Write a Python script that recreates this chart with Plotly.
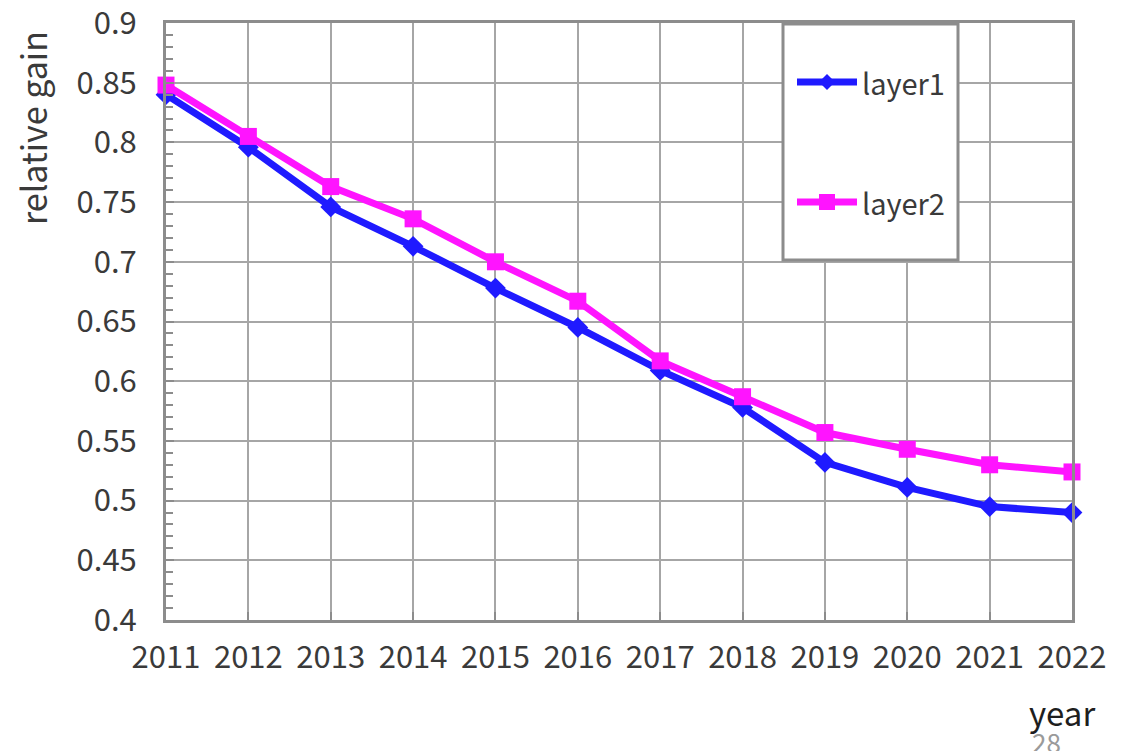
import plotly.graph_objects as go

# Data
years = [2011, 2012, 2013, 2014, 2015, 2016, 2017, 2018, 2019, 2020, 2021, 2022]
layer1 = [0.840, 0.796, 0.746, 0.713, 0.678, 0.645, 0.609, 0.578, 0.532, 0.511, 0.495, 0.490]
layer2 = [0.848, 0.805, 0.763, 0.736, 0.700, 0.667, 0.617, 0.587, 0.557, 0.543, 0.530, 0.524]
series_names = ["layer1", "layer2"]
y_ticks = [0.4, 0.45, 0.5, 0.55, 0.6, 0.65, 0.7, 0.75, 0.8, 0.85, 0.9]
y_tick_text = ["0.4", "0.45", "0.5", "0.55", "0.6", "0.65", "0.7", "0.75", "0.8", "0.85", "0.9"]

BLUE = "#1f1aff"
MAGENTA = "#ff14ff"
GRID = "#a6a6a6"
AXIS = "#8c8c8c"
TEXT = "#3a3a3a"
FONT = "Noto Sans CJK SC"

W, H = 1135, 751
L, R, T, B = 166, 63, 23, 131

fig = go.Figure()
fig.add_trace(go.Scatter(
    x=years, y=layer1, mode="lines+markers", name=series_names[0],
    line=dict(color=BLUE, width=7),
    marker=dict(symbol="diamond", size=16, color=BLUE),
    showlegend=False, cliponaxis=False,
))
fig.add_trace(go.Scatter(
    x=years, y=layer2, mode="lines+markers", name=series_names[1],
    line=dict(color=MAGENTA, width=7),
    marker=dict(symbol="square", size=17, color=MAGENTA),
    showlegend=False, cliponaxis=False,
))

fig.update_layout(
    width=W, height=H,
    margin=dict(l=L, r=R, t=T, b=B, autoexpand=False),
    paper_bgcolor="white", plot_bgcolor="white",
    font=dict(family=FONT, color=TEXT),
    xaxis=dict(
        range=[2011, 2022], tickmode="array", tickvals=years,
        ticktext=[str(y) for y in years],
        tickfont=dict(size=31, color=TEXT, family=FONT),
        showgrid=True, gridcolor=GRID, gridwidth=2,
        showline=True, linecolor=AXIS, linewidth=3, mirror=True,
        ticks="inside", ticklen=8, tickwidth=2, tickcolor=AXIS,
        ticklabelstandoff=8, ticklabeloverflow="allow", automargin=False,
        zeroline=False,
    ),
    yaxis=dict(
        range=[0.4, 0.9], tickmode="array", tickvals=y_ticks, ticktext=y_tick_text,
        tickfont=dict(size=31, color=TEXT, family=FONT),
        showgrid=True, gridcolor=GRID, gridwidth=2,
        showline=True, linecolor=AXIS, linewidth=3, mirror=True,
        ticks="inside", ticklen=8, tickwidth=2, tickcolor=AXIS,
        minor=dict(dtick=0.01, ticks="inside", ticklen=7, tickwidth=2,
                   tickcolor=AXIS, showgrid=False),
        ticklabelstandoff=20, ticklabeloverflow="allow", automargin=False,
        zeroline=False,
    ),
)

pw, ph = W - L - R, H - T - B


def px(xp):
    return (xp - L) / pw


def py(yp):
    return 1 - (yp - T) / ph


# Axis titles and page number
fig.add_annotation(text="relative gain", xref="paper", yref="paper",
                   x=px(33), y=py(128), xanchor="center", yanchor="middle",
                   textangle=-90, showarrow=False,
                   font=dict(size=34, color=TEXT, family=FONT))
fig.add_annotation(text="year", xref="paper", yref="paper",
                   x=px(1062), y=py(712), xanchor="center", yanchor="middle",
                   showarrow=False, font=dict(size=33, color="#1e1e1e", family=FONT))
fig.add_annotation(text="28", xref="paper", yref="paper",
                   x=px(1046), y=py(741), xanchor="center", yanchor="middle",
                   showarrow=False, font=dict(size=26, color="#9a9a9a", family=FONT))

# Legend box
fig.add_shape(type="rect", xref="paper", yref="paper",
              x0=px(783), x1=px(958), y0=py(260), y1=py(24),
              line=dict(color="#8c8c8c", width=3), fillcolor="white", layer="above")

legend_rows = [(series_names[0], BLUE, "diamond", 82), (series_names[1], MAGENTA, "square", 202)]
for name, color, sym, ypix in legend_rows:
    fig.add_shape(type="line", xref="paper", yref="paper",
                  x0=px(797), x1=px(857), y0=py(ypix), y1=py(ypix),
                  line=dict(color=color, width=7), layer="above")
    if sym == "square":
        fig.add_shape(type="rect", xref="paper", yref="paper",
                      x0=px(819), x1=px(835), y0=py(ypix + 8), y1=py(ypix - 8),
                      line=dict(width=0), fillcolor=color, layer="above")
    else:
        cx, cy = px(827), py(ypix)
        dx, dy = 8 / pw, 8 / ph
        fig.add_shape(type="path", xref="paper", yref="paper",
                      path=f"M {cx - dx} {cy} L {cx} {cy + dy} L {cx + dx} {cy} L {cx} {cy - dy} Z",
                      line=dict(width=0), fillcolor=color, layer="above")
    fig.add_annotation(text=name, xref="paper", yref="paper",
                       x=px(860), y=py(ypix), xanchor="left", yanchor="middle",
                       showarrow=False, font=dict(size=29, color=TEXT, family=FONT))

fig.write_html("out.html")
